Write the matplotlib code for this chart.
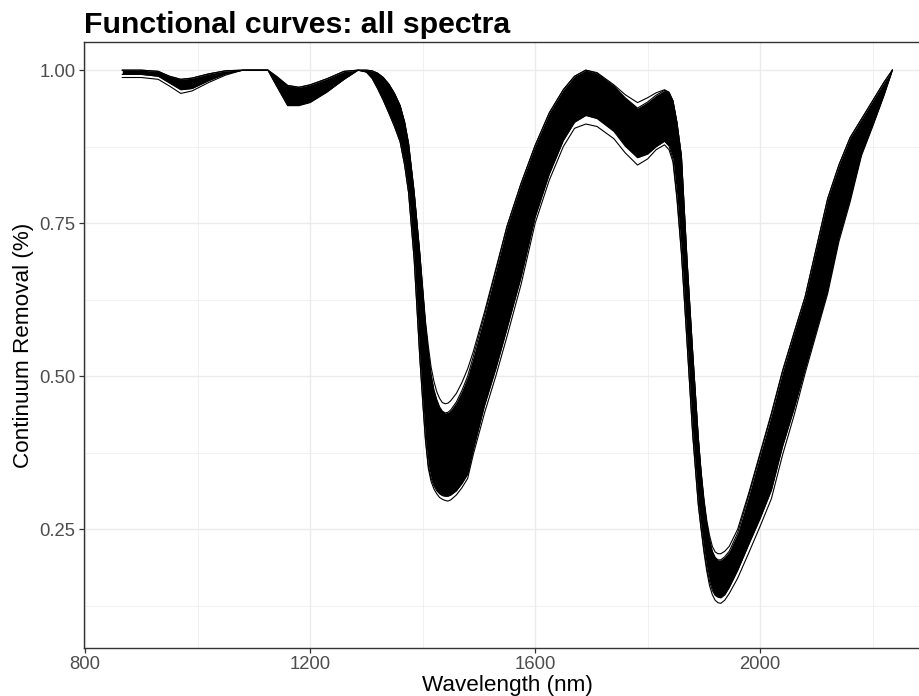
import matplotlib
matplotlib.use("Agg")
import matplotlib.pyplot as plt
from matplotlib.ticker import FixedLocator

plt.rcParams['font.family'] = ['Liberation Sans', 'DejaVu Sans']

# ---- data (continuum-removed spectra envelopes) ----
wavelength = [866, 900, 930, 950, 970, 990, 1020, 1050, 1080, 1100, 1125, 1140, 1160,
              1180, 1200, 1230, 1260, 1285, 1300, 1310, 1320, 1330, 1340, 1350, 1360, 1368,
              1375, 1385, 1395, 1400, 1405, 1410, 1415, 1420, 1425, 1430, 1435, 1440, 1445,
              1450, 1460, 1470, 1480, 1490, 1510, 1530, 1550, 1575, 1600, 1625, 1650, 1670,
              1690, 1710, 1740, 1760, 1782, 1800, 1815, 1830, 1838, 1845, 1852, 1860, 1870,
              1880, 1890, 1895, 1900, 1905, 1910, 1915, 1920, 1925, 1930, 1937, 1945, 1960,
              1980, 2000, 2020, 2040, 2060, 2080, 2100, 2120, 2140, 2160, 2180, 2200, 2220, 2235]

# highest spectrum
spectrum_max = [1.000, 1.000, 0.998, 0.990, 0.985, 0.987, 0.994, 0.999, 1.000, 1.000, 1.000, 0.990, 0.975,
                0.972, 0.976, 0.986, 0.998, 1.000, 1.000, 0.999, 0.995, 0.988, 0.977, 0.962, 0.942, 0.915,
                0.880, 0.800, 0.700, 0.645, 0.590, 0.550, 0.515, 0.492, 0.475, 0.464, 0.457, 0.455, 0.456,
                0.460, 0.472, 0.490, 0.512, 0.540, 0.605, 0.675, 0.745, 0.815, 0.877, 0.930, 0.968, 0.990,
                1.000, 0.996, 0.976, 0.960, 0.947, 0.955, 0.963, 0.968, 0.964, 0.950, 0.915, 0.860, 0.690,
                0.540, 0.400, 0.345, 0.300, 0.265, 0.240, 0.222, 0.213, 0.210, 0.210, 0.214, 0.222, 0.250,
                0.310, 0.375, 0.440, 0.510, 0.570, 0.630, 0.710, 0.790, 0.845, 0.890, 0.920, 0.950, 0.980, 1.000]

# upper edge of the dense bundle
bundle_top = [1.000, 1.000, 0.998, 0.990, 0.985, 0.987, 0.994, 0.999, 1.000, 1.000, 1.000, 0.990, 0.975,
              0.972, 0.976, 0.986, 0.998, 1.000, 1.000, 0.999, 0.995, 0.988, 0.977, 0.962, 0.942, 0.915,
              0.880, 0.800, 0.700, 0.642, 0.585, 0.540, 0.503, 0.478, 0.462, 0.450, 0.443, 0.440, 0.441,
              0.445, 0.458, 0.477, 0.500, 0.532, 0.600, 0.672, 0.745, 0.815, 0.877, 0.930, 0.968, 0.990,
              1.000, 0.995, 0.974, 0.955, 0.938, 0.948, 0.959, 0.967, 0.963, 0.950, 0.915, 0.860, 0.690,
              0.540, 0.400, 0.343, 0.297, 0.260, 0.233, 0.214, 0.204, 0.200, 0.200, 0.205, 0.214, 0.244,
              0.306, 0.372, 0.437, 0.508, 0.570, 0.630, 0.710, 0.790, 0.845, 0.890, 0.920, 0.950, 0.980, 1.000]

# lower edge of the dense bundle
bundle_bottom = [0.993, 0.993, 0.990, 0.979, 0.968, 0.970, 0.983, 0.994, 1.000, 1.000, 1.000, 0.975, 0.943,
                 0.943, 0.948, 0.965, 0.985, 1.000, 0.997, 0.987, 0.970, 0.951, 0.930, 0.908, 0.883, 0.845,
                 0.800, 0.690, 0.530, 0.462, 0.398, 0.355, 0.333, 0.321, 0.313, 0.308, 0.305, 0.304, 0.304,
                 0.306, 0.313, 0.325, 0.340, 0.380, 0.452, 0.512, 0.578, 0.662, 0.760, 0.830, 0.885, 0.915,
                 0.926, 0.921, 0.900, 0.876, 0.857, 0.863, 0.875, 0.884, 0.876, 0.855, 0.795, 0.704, 0.557,
                 0.407, 0.292, 0.252, 0.217, 0.188, 0.165, 0.150, 0.142, 0.139, 0.138, 0.143, 0.155, 0.183,
                 0.226, 0.268, 0.314, 0.386, 0.446, 0.512, 0.576, 0.640, 0.726, 0.790, 0.863, 0.910, 0.960, 1.000]

# lowest spectrum
spectrum_min = [0.988, 0.988, 0.985, 0.974, 0.962, 0.966, 0.980, 0.992, 1.000, 1.000, 1.000, 0.975, 0.942,
                0.942, 0.947, 0.964, 0.985, 1.000, 0.997, 0.987, 0.970, 0.951, 0.930, 0.908, 0.883, 0.845,
                0.800, 0.690, 0.530, 0.460, 0.395, 0.350, 0.328, 0.316, 0.308, 0.302, 0.299, 0.297, 0.296,
                0.298, 0.306, 0.318, 0.333, 0.372, 0.440, 0.500, 0.565, 0.650, 0.750, 0.820, 0.875, 0.905,
                0.912, 0.908, 0.888, 0.865, 0.845, 0.855, 0.870, 0.878, 0.870, 0.850, 0.790, 0.700, 0.555,
                0.405, 0.290, 0.250, 0.213, 0.182, 0.158, 0.143, 0.134, 0.130, 0.129, 0.134, 0.145, 0.170,
                0.212, 0.255, 0.300, 0.372, 0.435, 0.505, 0.570, 0.635, 0.720, 0.785, 0.860, 0.908, 0.958, 1.000]

x_major = [800, 1200, 1600, 2000]
x_minor = [1000, 1400, 1800, 2200]
y_major = [0.25, 0.50, 0.75, 1.00]
y_minor = [0.125, 0.375, 0.625, 0.875]
y_labels = ["0.25", "0.50", "0.75", "1.00"]

# ---- figure ----
W, H = 920, 696
fig = plt.figure(figsize=(W / 100, H / 100), dpi=100)
left_px, right_px, top_px, bottom_px = 84, 930.6, 42, 648
ax = fig.add_axes([left_px / W, 1 - bottom_px / H,
                   (right_px - left_px) / W, (bottom_px - top_px) / H])

ax.set_xlim(798, 2303)
ax.set_ylim(0.056, 1.046)

ax.fill_between(wavelength, bundle_bottom, bundle_top, color="black", lw=0, zorder=3)
for series in (spectrum_max, bundle_top, bundle_bottom, spectrum_min):
    ax.plot(wavelength, series, color="black", lw=0.8, zorder=4, solid_joinstyle="round")

ax.xaxis.set_major_locator(FixedLocator(x_major))
ax.xaxis.set_minor_locator(FixedLocator(x_minor))
ax.yaxis.set_major_locator(FixedLocator(y_major))
ax.yaxis.set_minor_locator(FixedLocator(y_minor))
ax.set_yticklabels(y_labels)
ax.set_xticklabels([str(v) for v in x_major])

ax.grid(which="major", color="#EBEBEB", lw=1.0, zorder=0)
ax.grid(which="minor", color="#EBEBEB", lw=0.5, zorder=0)
ax.set_axisbelow(True)

for s in ax.spines.values():
    s.set_color("#333333")
    s.set_linewidth(1.0)

ax.tick_params(which="major", length=3.6, width=0.9, color="#333333",
               labelcolor="#4D4D4D", labelsize=13.3, pad=2.5)
ax.tick_params(which="minor", length=0)

ax.set_xlabel("Wavelength (nm)", fontsize=16.2, color="black", labelpad=1)
ax.set_ylabel("Continuum Removal (%)", fontsize=16.2, color="black", labelpad=4)

fig.text(left_px / W, 1 - 33 / H, "Functional curves: all spectra", fontsize=21.8,
         fontweight="bold", ha="left", va="baseline", color="black")

fig.savefig("out.png", dpi=100, facecolor="white")
